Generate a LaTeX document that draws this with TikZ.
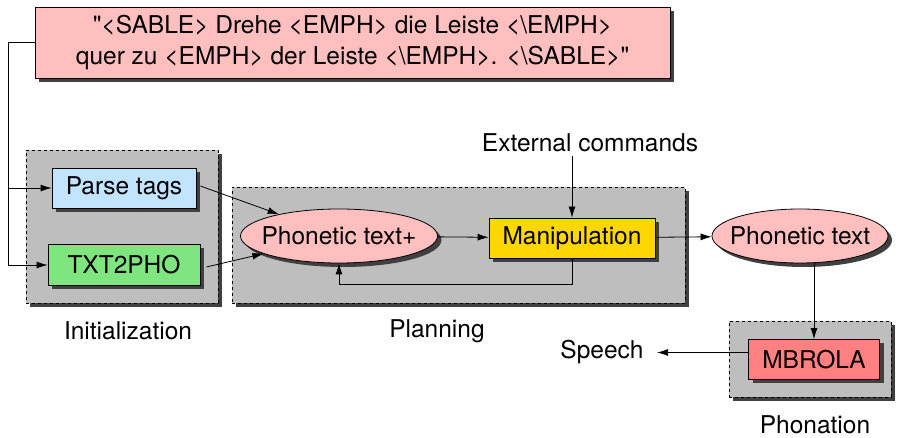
\documentclass[tikz,border=0pt]{standalone}
\usepackage{fontspec}
\newfontfamily\hv{TeX Gyre Heros}
\usetikzlibrary{shadows,arrows.meta,shapes.geometric}
\definecolor{pinkf}{HTML}{FFBFBF}
\definecolor{bluef}{HTML}{C2E4FF}
\definecolor{greenf}{HTML}{7FE57F}
\definecolor{goldf}{HTML}{FFD700}
\definecolor{redf}{HTML}{FF8080}
\definecolor{grpf}{HTML}{BEBEBE}
\definecolor{shd}{HTML}{404040}
\begin{document}
\begin{tikzpicture}[x=1pt,y=-1pt,
  every node/.style={font=\hv\fontsize{24.5}{31}\selectfont},
  nshadow/.style={drop shadow={shadow xshift=4pt,shadow yshift=-4pt,fill=shd,opacity=1}},
  box/.style={draw,rectangle,nshadow,inner sep=0pt,line width=0.8pt},
  ell/.style={draw,ellipse,fill=pinkf,nshadow,inner xsep=-30pt,inner ysep=-6pt,line width=0.8pt},
  grp/.style={draw,dashed,fill=grpf,rectangle,inner sep=0pt,line width=0.8pt,nshadow},
  arr/.style={-{Latex[length=11pt,width=7pt]},line width=0.8pt},
  plain/.style={line width=0.8pt}]
\useasboundingbox (0,0) rectangle (898,438);

% groups
\node[grp,minimum width=192pt,minimum height=153pt] (ginit) at (122,226.5) {};
\node[grp,minimum width=453pt,minimum height=116pt] (gplan) at (458.5,245) {};
\node[grp,minimum width=162pt,minimum height=76pt] (gphon) at (810,359) {};

% nodes
\node[box,fill=pinkf,minimum width=635pt,minimum height=71pt,align=center] (top) at (352.5,42.5)
  {"<SABLE> Drehe <EMPH> die Leiste <\textbackslash EMPH>\\quer zu <EMPH> der Leiste <\textbackslash EMPH>. <\textbackslash SABLE>"};
\node[box,fill=bluef,minimum width=144pt,minimum height=40pt] (parse) at (124,188) {Parse tags};
\node[box,fill=greenf,minimum width=152pt,minimum height=41pt] (txt) at (124,265) {TXT2PHO};
\node[ell,minimum width=197pt,minimum height=54pt] (ph1) at (339,236) {Phonetic text+};
\node[box,fill=goldf,minimum width=166pt,minimum height=40pt] (manip) at (572,238) {Manipulation};
\node[ell,minimum width=176pt,minimum height=54pt] (ph2) at (800,236) {Phonetic text};
\node[box,fill=redf,minimum width=131pt,minimum height=40pt] (mbrola) at (814,359.5) {MBROLA};
\node (ext) at (590,143) {External commands};
\node (speech) at (602,352) {Speech};
\node (linit) at (128,331) {Initialization};
\node (lplan) at (437,331) {Planning};
\node (lphon) at (815,425) {Phonation};
\coordinate (bus) at (8,0);

% connectors
\draw[arr] (top.west) -- (top.west -| bus) |- (txt.west);
\draw[arr] (parse.west -| bus) -- (parse.west);
\draw[arr] ([xshift=4pt,yshift=2pt]parse.east) -- (ph1);
\draw[arr] ([xshift=6pt,yshift=-2pt]txt.east) -- (ph1);
\draw[arr] (ph1) -- (manip);
\draw[arr] (ext.south -| manip) -- (manip);
\draw[arr] (manip.south) -- ++(0,26) -| (ph1.south);
\draw[arr] (manip) -- (ph2);
\draw[arr] ([shift={(14,26.6)}]ph2.center) -- (mbrola.north);
\draw[arr] ([yshift=7pt]mbrola.west) -- ([yshift=7pt,xshift=10pt]mbrola.west -| speech.east);
\end{tikzpicture}
\end{document}
